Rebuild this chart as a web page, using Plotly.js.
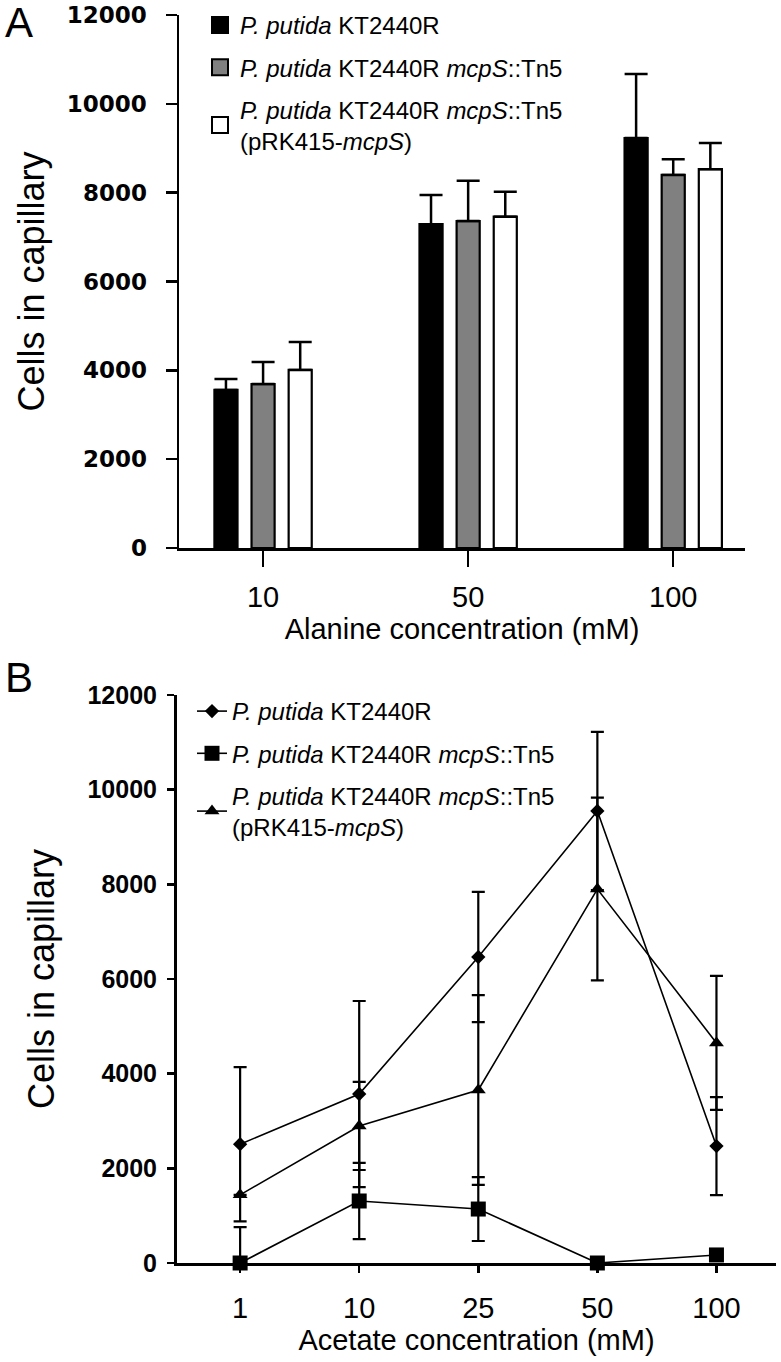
<!DOCTYPE html>
<html><head><meta charset="utf-8">
<script src="https://cdn.plot.ly/plotly-3.0.1.min.js"></script>
<style>html,body{margin:0;padding:0;background:#fff}</style>
</head><body>
<div id="chart" style="width:781px;height:1362px"></div>
<script>
// ---------- Panel A: alanine (bars, upper error only) ----------
const alanineConc = ['10', '50', '100'];
const nameWT = '<i>P. putida</i> KT2440R';
const nameMut = '<i>P. putida</i> KT2440R <i>mcpS</i>::Tn5';
const nameComp = '<i>P. putida</i> KT2440R <i>mcpS</i>::Tn5<br>(pRK415-<i>mcpS</i>)';
const alaWT = [3560, 7290, 9230];
const alaWTErr = [245, 655, 1440];
const alaMut = [3690, 7360, 8400];
const alaMutErr = [495, 910, 350];
const alaComp = [4010, 7460, 8530];
const alaCompErr = [630, 560, 590];

// ---------- Panel B: acetate (lines, symmetric error) ----------
const acetateConc = ['1', '10', '25', '50', '100'];
const acWT = [2510, 3570, 6465, 9550, 2470];
const acWTErr = [1630, 1965, 1375, 1670, 1035];
const acMut = [0, 1310, 1140, 0, 170];
const acMutErr = [760, 805, 675, 0, 0];
const acComp = [1440, 2895, 3655, 7900, 4650];
const acCompErr = [0, 930, 2005, 1930, 1415];

const yTicks = [0, 2000, 4000, 6000, 8000, 10000, 12000];

const FONT = 'Liberation Sans, Arial, Helvetica, sans-serif';
const WIDE_BOLD = 'DejaVu Sans, Liberation Sans, Arial, sans-serif';
const W = 781, H = 1362;
const px = v => v / W;
const py = v => 1 - v / H;

function barTrace(y, err, fill, name) {
  return {
    type: 'bar', x: alanineConc, y: y, name: name, showlegend: false,
    xaxis: 'x', yaxis: 'y',
    marker: {color: fill, line: {color: '#000', width: 2.2}},
    error_y: {type: 'data', symmetric: false, array: err, arrayminus: err.map(() => 0),
              color: '#000', thickness: 2.5, width: 11.5}
  };
}
function legendProxy(fill, name, grp) {
  return {
    type: 'scatter', mode: 'markers', x: [null], y: [null], name: name,
    xaxis: 'x', yaxis: 'y', legend: 'legend', legendgroup: grp,
    marker: {symbol: 'square', size: 22, color: fill, line: {color: '#000', width: 2}}
  };
}
function lineTrace(y, err, symbol, size, name, grp) {
  return {
    type: 'scatter', mode: 'lines+markers', x: acetateConc, y: y, name: name,
    xaxis: 'x2', yaxis: 'y2', legend: 'legend2', legendgroup: grp, cliponaxis: false,
    line: {color: '#000', width: 1.6},
    marker: {symbol: symbol, size: size, color: '#000'},
    error_y: {type: 'data', array: err, color: '#000', thickness: 2.2, width: 6.5}
  };
}

const data = [
  barTrace(alaWT, alaWTErr, '#000000', nameWT),
  barTrace(alaMut, alaMutErr, '#808080', nameMut),
  barTrace(alaComp, alaCompErr, '#ffffff', nameComp),
  legendProxy('#000000', nameWT, 'a1'),
  legendProxy('#808080', nameMut, 'a2'),
  legendProxy('#ffffff', nameComp, 'a3'),
  lineTrace(acWT, acWTErr, 'diamond', 11, nameWT, 'b1'),
  lineTrace(acMut, acMutErr, 'square', 15, nameMut, 'b2'),
  lineTrace(acComp, acCompErr, 'triangle-up', 13, nameComp, 'b3')
];

const yTickFontA = {family: WIDE_BOLD, size: 23, color: '#000', weight: 'bold'};
const yTickFontB = {family: FONT, size: 25, color: '#000', weight: 'bold'};
const xTickFont = {family: FONT, size: 29, color: '#000'};
const titleFont = {family: FONT, size: 29, color: '#000'};
const yTitleFont = {family: FONT, size: 36, color: '#000'};

const layout = {
  width: W, height: H,
  margin: {l: 0, r: 0, t: 0, b: 0},
  paper_bgcolor: '#fff', plot_bgcolor: 'rgba(0,0,0,0)',
  showlegend: true,
  barmode: 'group', bargap: 0.457, bargroupgap: 0.378,
  font: {family: FONT, color: '#000'},
  xaxis: {
    domain: [px(179), px(745)], anchor: 'y', type: 'category', range: [-0.41, 2.35],
    showline: true, linecolor: '#000', linewidth: 2.5, showgrid: false, zeroline: false,
    ticks: 'outside', ticklen: 16, tickwidth: 2.5, tickcolor: '#000',
    tickfont: xTickFont, ticklabelstandoff: 6,
    title: {text: 'Alanine concentration (mM)', font: titleFont, standoff: 4}
  },
  yaxis: {
    domain: [py(548), py(15)], anchor: 'x', range: [0, 12000],
    tickmode: 'array', tickvals: yTicks, tickformat: 'd',
    showline: true, linecolor: '#000', linewidth: 2.5, showgrid: false, zeroline: false,
    ticks: 'outside', ticklen: 11, tickwidth: 2.5, tickcolor: '#000',
    tickfont: yTickFontA, ticklabelstandoff: 14,
    title: {text: 'Cells in capillary', font: yTitleFont, standoff: 12}
  },
  xaxis2: {
    domain: [px(177), px(776)], anchor: 'y2', type: 'category', range: [-0.53, 4.5],
    showline: true, linecolor: '#000', linewidth: 3, showgrid: false, zeroline: false,
    ticks: 'outside', ticklen: 7, tickwidth: 2.5, tickcolor: '#000',
    tickfont: xTickFont, ticklabelstandoff: 10,
    title: {text: 'Acetate concentration (mM)', font: titleFont, standoff: 4}
  },
  yaxis2: {
    domain: [py(1263), py(695)], anchor: 'x2', range: [0, 12000],
    tickmode: 'array', tickvals: yTicks, tickformat: 'd',
    showline: true, linecolor: '#000', linewidth: 3, showgrid: false, zeroline: false,
    ticks: 'outside', ticklen: 7, tickwidth: 2.5, tickcolor: '#000',
    tickfont: yTickFontB, ticklabelstandoff: 5,
    title: {text: 'Cells in capillary', font: yTitleFont, standoff: 22}
  },
  legend: {
    x: px(200), xanchor: 'left', y: py(3), yanchor: 'top',
    bgcolor: 'rgba(0,0,0,0)', font: {family: FONT, size: 24, color: '#000'},
    tracegroupgap: 8, traceorder: 'grouped', itemwidth: 30
  },
  legend2: {
    x: px(192), xanchor: 'left', y: py(689), yanchor: 'top',
    bgcolor: 'rgba(0,0,0,0)', font: {family: FONT, size: 24, color: '#000'},
    tracegroupgap: 8, traceorder: 'grouped', itemwidth: 30
  },
  annotations: [
    {text: 'A', xref: 'paper', yref: 'paper', x: px(3), y: py(-3), xanchor: 'left', yanchor: 'top',
     showarrow: false, font: {family: FONT, size: 42, color: '#000'}},
    {text: 'B', xref: 'paper', yref: 'paper', x: px(3), y: py(652), xanchor: 'left', yanchor: 'top',
     showarrow: false, font: {family: FONT, size: 42, color: '#000'}}
  ]
};

Plotly.newPlot('chart', data, layout, {staticPlot: true, displayModeBar: false});
</script>
</body></html>
